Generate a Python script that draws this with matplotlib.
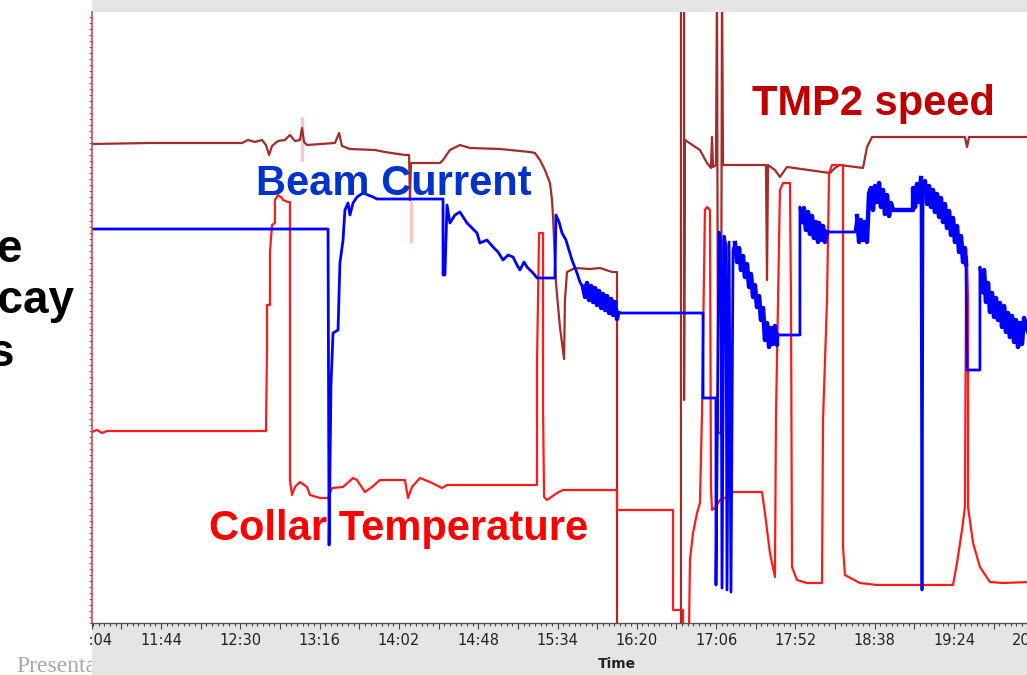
import numpy as np
import matplotlib.pyplot as plt
from matplotlib.patches import Rectangle
from matplotlib.ticker import FixedLocator, FuncFormatter

# time in minutes after 11:00, values in arbitrary display units (no y scale on the chart)
tmp2_t = [4.0, 37.6, 91.0, 94.5, 98.5, 102.6, 104.9, 106.7, 108.4, 111.9, 115.9, 118.8, 121.7, 124.6,
          125.8, 127.0, 128.7, 144.9, 147.3, 149.0, 153.6, 168.1, 173.9, 185.5, 187.9, 188.4, 189.0,
          205.8, 207.6, 211.6, 217.4, 223.2, 240.6, 258.0, 260.9, 263.8, 266.7, 269.6, 270.8, 271.4,
          273.1, 275.4, 277.8, 278.3, 279.5, 284.1, 292.8, 298.6, 305.6, 308.5, 308.5, 345.6, 345.6,
          347.4, 347.4, 347.9, 356.6, 360.7, 363.0, 363.6, 364.2, 365.9, 366.5, 367.1, 368.8, 369.4,
          370.0, 374.0, 394.9, 395.5, 396.1, 400.1, 403.0, 407.1, 432.0, 434.9, 437.8, 451.2, 453.5,
          456.4, 510.3, 511.5, 512.7, 548.0]
tmp2_v = [479, 480, 480, 483, 481, 483, 478, 468, 477, 482, 483, 488, 482, 483,
          495, 481, 478, 480, 490, 477, 474, 473, 471, 468, 468, 423, 460,
          460, 463, 473, 478, 475, 474, 471, 470, 463, 453, 440, 423, 406,
          340, 296, 264, 323, 351, 355, 354, 355, 351, 351, -5, -5, 640,
          640, 223, 483, 473, 460, 455, 486, 456, 458, 640, 190, 190, 640,
          458, 458, 458, 343, 458, 453, 446, 456, 450, 455, 458, 455, 476,
          486, 486, 476, 486, 486]

beam_t = [4.0, 140.9, 141.5, 142.6, 143.8, 146.7, 147.8, 149.6, 150.7, 152.5, 153.6, 155.4, 157.7,
          161.2, 167.0, 169.3, 207.6, 207.6, 208.7, 209.9, 211.6, 214.5, 217.4, 221.5, 224.4, 227.3,
          229.0, 233.1, 236.6, 239.5, 242.4, 245.3, 248.2, 250.5, 252.2, 254.6, 256.3, 259.8, 262.1,
          272.5, 273.1, 274.9, 276.6, 278.9, 280.1, 282.4, 285.3, 287.0,
          288.8, 290.0, 291.1, 292.3, 293.5, 294.6, 295.8, 296.9, 298.1, 299.3, 300.4, 301.6, 302.7,
          303.9, 305.1, 306.2, 307.4, 308.5, 309.1,
          358.4, 358.4, 365.9, 365.9, 367.7, 368.8, 369.4, 370.6, 371.7, 372.3, 373.5, 374.6, 375.8,
          376.9, 378.1, 379.3, 380.4, 381.6, 382.7, 383.9, 385.1, 386.2, 387.4, 388.5, 389.7, 390.9,
          392.0, 393.2, 394.3, 395.5, 396.7, 397.8, 399.0, 400.1, 401.3,
          401.3, 414.6, 414.6,
          415.8, 416.9, 418.1, 419.3, 420.4, 421.6, 422.7, 423.9, 425.1, 425.7, 426.8, 428.0, 429.1, 430.3,
          446.5,
          447.7, 448.9, 450.0, 451.2, 452.3, 453.5, 454.7, 455.8, 457.0, 458.1, 459.3, 460.5, 461.6,
          462.8, 463.9, 465.1, 466.3, 467.4, 468.6,
          480.2,
          480.2, 481.4, 482.5, 483.7, 484.8, 485.4, 486.0, 487.1, 488.3, 489.5, 490.6, 491.8, 492.9,
          494.1, 495.3, 496.4, 497.6, 498.7, 499.9, 501.1, 502.2, 503.4, 504.5, 505.7, 506.9, 508.0,
          509.2, 510.3, 510.9, 511.5, 519.0, 519.0,
          520.2, 521.4, 522.5, 523.7, 524.8, 526.0, 527.2, 528.3, 529.5, 530.6, 531.8, 533.0, 534.1,
          535.3, 536.4, 537.6, 538.8, 539.9, 541.1, 542.2, 543.4, 544.6, 548.0]
beam_v = [394, 394, 78, 238, 290, 293, 360, 383, 413, 420, 408, 420, 426,
          430, 426, 424, 424, 348, 348, 418, 400, 408, 411, 400, 395, 390,
          380, 383, 376, 371, 363, 368, 366, 358, 353, 361, 356, 350, 345,
          345, 408, 401, 390, 383, 376, 363, 350, 341,
          336, 326, 340, 323, 337, 321, 335, 318, 332, 315, 329, 313, 327,
          310, 324, 308, 321, 304, 310,
          310, 225, 225, 38, 391, 383, 35, 387, 378, 33, 381, 31, 373,
          380, 361, 375, 353, 367, 346, 359, 336, 349, 326, 338, 316, 327,
          303, 315, 283, 300, 276, 295, 279, 297, 278,
          288, 288, 416,
          401, 415, 393, 411, 389, 407, 385, 401, 381, 400, 383, 397, 381, 391,
          391,
          407, 381, 403, 383, 401, 381, 430, 435, 413, 437, 421, 440, 416,
          433, 409, 428, 407, 420, 413,
          413,
          435, 416, 439, 421, 445, 33, 430, 442, 419, 437, 416, 433, 411,
          429, 406, 425, 401, 419, 395, 412, 388, 405, 381, 397, 371, 387,
          361, 375, 359, 253, 253, 356,
          331, 353, 321, 340, 311, 330, 306, 325, 303, 320, 296, 317, 291,
          310, 286, 307, 281, 303, 276, 300, 279, 305, 285]

# stretches where the beam current signal is noisy (drawn as a dense band)
noisy_ranges = [(288.8, 309.1), (376.9, 401.3), (415.8, 430.3), (447.7, 468.6),
                (480.2, 510.9), (520.2, 548.0)]

collar_t = [4.0, 6.9, 9.8, 12.7, 66.6, 104.9, 105.5, 105.5, 107.2, 107.2, 108.4, 110.1, 110.1, 111.9,
            114.2, 114.8, 117.7, 118.8, 118.8, 120.0, 121.7, 124.6, 128.7, 130.4, 136.2, 140.9, 143.2,
            149.6, 155.4, 157.7, 162.3, 166.4, 171.0, 176.8, 185.5, 187.3, 189.6, 194.2, 200.0, 207.0,
            209.9, 225.0, 262.1, 262.1, 263.3, 265.6, 265.6, 266.2, 267.9, 273.7, 277.2, 308.5, 308.5,
            341.0, 341.0, 346.8, 346.8, 350.3, 350.8, 352.6, 354.9, 356.6, 357.8, 359.5, 360.7, 362.4,
            363.0, 363.6, 365.3, 368.2, 372.3, 375.8, 392.6, 394.3, 397.2, 400.1, 400.7, 401.9, 403.0,
            404.8, 408.8, 409.4, 410.0, 412.9, 418.7, 427.4, 428.0, 430.3, 431.5, 433.2, 439.6, 439.6,
            440.7, 449.4, 459.3, 503.4, 505.7, 508.6, 510.3, 510.9, 511.5, 512.1, 512.1, 515.0, 519.0,
            524.8, 532.4, 548.0]
collar_v = [191, 193, 190, 192, 192, 192, 273, 318, 318, 370, 398, 400, 423, 428,
            425, 423, 421, 421, 143, 128, 136, 141, 136, 128, 125, 125, 135,
            136, 145, 143, 131, 136, 143, 143, 143, 125, 136, 145, 141, 135,
            138, 138, 138, 261, 390, 390, 215, 126, 123, 130, 133, 133, 113,
            113, 13, 13, -5, -5, 63, 90, 110, 120, 210, 413, 416, 413,
            135, 113, 115, 123, 126, 131, 131, 110, 70, 46, 206, 323, 433,
            440, 440, 323, 56, 43, 40, 40, 203, 323, 450, 458, 458, 76,
            48, 40, 38, 38, 60, 93, 116, 323, 366, 323, 116, 80, 56,
            41, 40, 41]

# faint pink trace (spikes only)
pink_t = [126.0, 126.0, np.nan, 189.3, 189.3]
pink_v = [506, 462, np.nan, 423, 380]

W, H = 1027.0, 675.0
gray = "#e5e5e5"

fig = plt.figure(figsize=(10.27, 6.75), dpi=100)
fig.patch.set_facecolor("white")

# slide footer, partly hidden by the chart panel
fig.text(16 / W, 1 - 672 / H, "Presentation", family=["Liberation Serif", "DejaVu Serif"],
         fontsize=17, color="#a8a8a8", va="baseline", ha="left", zorder=3)
fig.add_artist(Rectangle((92 / W, 0), 1, 1, transform=fig.transFigure,
                         facecolor=gray, edgecolor="none", zorder=4))

ax = fig.add_axes([92 / W, 1 - 623 / H, 1050 / W, 611 / H])
ax.set_zorder(5)

ax.plot(pink_t, pink_v, color="#f5a3a3", lw=2.5, alpha=0.6, solid_capstyle="butt")
ax.plot(tmp2_t, tmp2_v, color="#a52a2a", lw=1.6)
ax.plot(collar_t, collar_v, color="#ff1a1a", lw=1.6)
ax.plot(beam_t, beam_v, color="#0000ff", lw=2.0)

bt = np.array(beam_t)
bv = np.array(beam_v, dtype=float)
mask = np.zeros(len(bt), dtype=bool)
for lo, hi in noisy_ranges:
    mask |= (bt >= lo) & (bt <= hi)
mask &= bv > 150
ax.plot(bt, np.where(mask, bv, np.nan), color="#0000ff", lw=3.2)

ax.set_xlim(4, 613)
ax.set_ylim(0, 611)

major = [4] + [21 + 23 * k for k in range(26)]
minor = [21 + k * 23 / 7 for k in range(-5, 190)]


def fmt(m, pos):
    m = int(round(m))
    if m == 4 or (m - 44) % 46 == 0:
        return "%d:%02d" % (11 + m // 60, m % 60)
    return ""


ax.xaxis.set_major_locator(FixedLocator(major))
ax.xaxis.set_minor_locator(FixedLocator(minor))
ax.xaxis.set_major_formatter(FuncFormatter(fmt))
ax.tick_params(axis="x", which="major", direction="out", length=4.5, width=0.8,
               color="#444444", labelsize=10.5, labelcolor="#222222", pad=3)
ax.tick_params(axis="x", which="minor", direction="out", length=2.2, width=0.8, color="#444444")

ax.set_yticks([])
ax.yaxis.set_minor_locator(FixedLocator(list(range(0, 612, 6))))
ax.tick_params(axis="y", which="minor", direction="out", length=2, width=0.8, color="#c05050")

for s in ["top", "right"]:
    ax.spines[s].set_visible(False)
ax.spines["left"].set_color("#c05050")
ax.spines["left"].set_linewidth(1.2)
ax.spines["bottom"].set_color("#555555")
ax.spines["bottom"].set_linewidth(1.0)

ax.set_xlabel("Time", fontsize=10, fontweight="bold", color="#222222")
ax.xaxis.set_label_coords(0.5, -0.055)

# series labels
big = dict(family=["Liberation Sans", "DejaVu Sans"], fontweight="bold", fontsize=30,
           transform=ax.transAxes, va="baseline", ha="left", zorder=10)
ax.text((752 - 92) / 1050, (623 - 115) / 611, "TMP2 speed", color="#c00000", **big)
ax.text((256 - 92) / 1050, (623 - 195) / 611, "Beam Current", color="#0033cc", **big)
ax.text((209 - 92) / 1050, (623 - 540) / 611, "Collar Temperature", color="#ff0000", **big)

# hide the cut-off part of the first tick label
fig.add_artist(Rectangle((0, 1 - 654 / H), 89.5 / W, 31 / H, transform=fig.transFigure,
                         facecolor="white", edgecolor="none", zorder=6))

# slide text left of the chart (cut off by the page edge)
side = dict(family=["Liberation Sans"], fontweight="bold",
            fontsize=33, color="black", ha="right", va="baseline", zorder=7)
fig.text(22 / W, 1 - 262 / H, "e", **side)
fig.text(74 / W, 1 - 313 / H, "ecay", **side)
fig.text(14 / W, 1 - 366 / H, "s", **side)

fig.savefig("out.png", dpi=100, facecolor=fig.get_facecolor())
